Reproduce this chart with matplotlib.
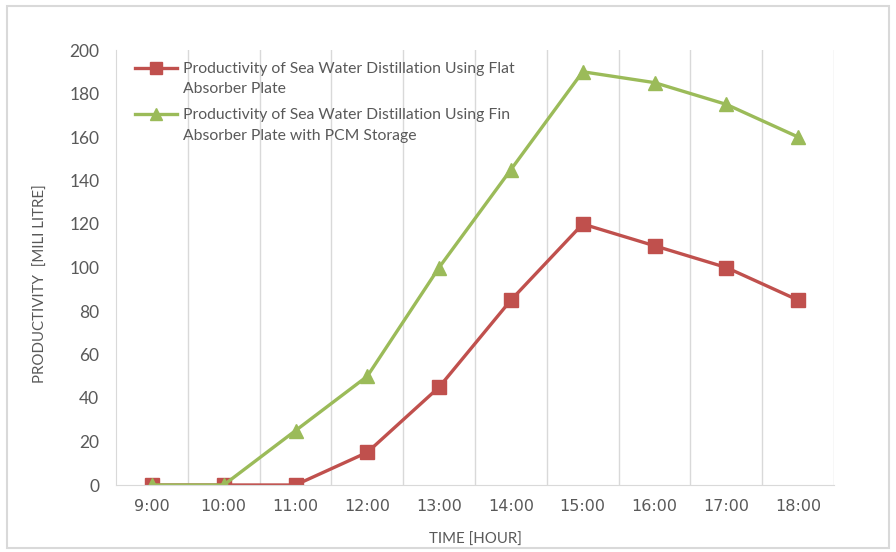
import numpy as np
import matplotlib.pyplot as plt
from matplotlib.patches import Rectangle
from matplotlib.legend_handler import HandlerLine2D

hours = ['9:00', '10:00', '11:00', '12:00', '13:00', '14:00', '15:00', '16:00', '17:00', '18:00']
flat_plate = [0, 0, 0, 15, 45, 85, 120, 110, 100, 85]
fin_pcm = [0, 0, 25, 50, 100, 145, 190, 185, 175, 160]

flat_label = 'Productivity of Sea Water Distillation Using Flat\nAbsorber Plate'
fin_label = 'Productivity of Sea Water Distillation Using Fin\nAbsorber Plate with PCM Storage'

plt.rcParams['font.family'] = ['Lato', 'DejaVu Sans']
text_color = '#595959'
grid_color = '#d9d9d9'


class FirstLineHandler(HandlerLine2D):
    # put the legend line next to the first text line, like Excel does
    def create_artists(self, legend, orig_handle, xdescent, ydescent, width, height, fontsize, trans):
        arts = super().create_artists(legend, orig_handle, xdescent, ydescent, width, height, fontsize, trans)
        for a in arts:
            a.set_ydata(np.asarray(a.get_ydata()) + 8)
        return arts


fig = plt.figure(figsize=(8.96, 5.52), dpi=100)
ax = fig.add_axes([116 / 896, 1 - 485 / 552, (834 - 116) / 896, (485 - 50) / 552])

x = list(range(len(hours)))
ax.plot(x, flat_plate, color='#C0504D', lw=2.4, marker='s', ms=10, label=flat_label)
ax.plot(x, fin_pcm, color='#9BBB59', lw=2.4, marker='^', ms=10, label=fin_label)

ax.set_xlim(-0.5, len(hours) - 0.5)
ax.set_ylim(0, 200)
ax.set_yticks(range(0, 201, 20))
ax.set_xticks(x)
ax.set_xticklabels(hours, family='DejaVu Sans', fontsize=11.5)
ax.tick_params(length=0, colors=text_color)
ax.tick_params(axis='y', labelsize=12.5, pad=12)
ax.tick_params(axis='x', pad=10)

# vertical gridlines between categories
for b in range(1, len(hours) + 1):
    ax.axvline(b - 0.5, color=grid_color, lw=1, zorder=0)

for s in ['top', 'right']:
    ax.spines[s].set_visible(False)
ax.spines['left'].set_color(grid_color)
ax.spines['bottom'].set_color(grid_color)

fig.text(475 / 896, 1 - 540 / 552, 'TIME [HOUR]', ha='center', va='center',
         color=text_color, fontsize=10.8)
fig.text(41 / 896, 1 - 284 / 552, 'PRODUCTIVITY  [MILI LITRE]', ha='center', va='center',
         rotation=90, color=text_color, fontsize=10.8)

leg = ax.legend(loc='upper left', bbox_to_anchor=(0.013, 0.995), frameon=False,
                fontsize=11.3, handlelength=2.7, handletextpad=0.35, labelspacing=0.75,
                markerscale=0.85, borderaxespad=0.2,
                handler_map={plt.Line2D: FirstLineHandler()})
for t in leg.get_texts():
    t.set_color(text_color)
    t.set_linespacing(1.6)

fig.patches.append(Rectangle((7 / 896, 4 / 552), 882 / 896, 542 / 552, transform=fig.transFigure,
                             fill=False, edgecolor=grid_color, lw=1.5))

fig.savefig('out.png', dpi=100)
